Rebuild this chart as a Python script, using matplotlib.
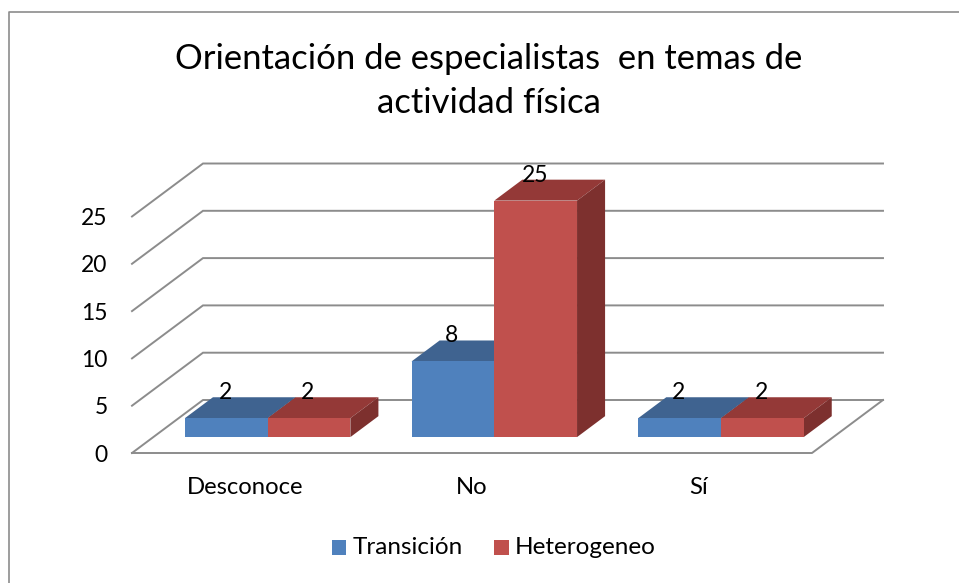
import matplotlib
matplotlib.use('Agg')
import matplotlib.pyplot as plt
from matplotlib.patches import Polygon, Rectangle

plt.rcParams['font.family'] = ['Lato', 'DejaVu Sans']

# Data
categories = ['Desconoce', 'No', 'Sí']
transicion = [2, 8, 2]
heterogeneo = [2, 25, 2]
y_ticks = [0, 5, 10, 15, 20, 25]
title = 'Orientación de especialistas  en temas de\nactividad física'

W, H = 959, 583
fig = plt.figure(figsize=(W / 100, H / 100), dpi=100)

# front plane of the 3D box
left, right, bottom, top = 132, 812, 453, 216.5
ax = fig.add_axes([left / W, 1 - bottom / H, (right - left) / W, (bottom - top) / H])
ax.set_xlim(0, 3)
ax.set_ylim(0, 25)
ax.patch.set_visible(False)
for s in ax.spines.values():
    s.set_visible(False)

# depth of the box, in data units
px_x = 3 / (right - left)
px_y = 25 / (bottom - top)
depth_x = 71 * px_x
depth_y = 53 * px_y


def proj(x, y, d=0.0):
    return (x + d * depth_x, y + d * depth_y)


GRID = '#8c8c8c'
for v in y_ticks:
    ax.plot(*zip(proj(0, v), proj(0, v, 1), proj(3, v, 1)), color=GRID, lw=1.4,
            clip_on=False, solid_joinstyle='miter', zorder=1)
ax.plot(*zip(proj(0, 0), proj(3, 0), proj(3, 0, 1)), color=GRID, lw=1.4,
        clip_on=False, zorder=1)

ax.set_yticks(y_ticks)
ax.set_xticks([0.5, 1.5, 2.5])
ax.set_xticklabels(categories)
ax.tick_params(axis='y', length=0, pad=17.5, labelsize=16.5)
ax.tick_params(axis='x', length=0, pad=17.5, labelsize=17.2)

BAR_W = 0.365
D0, D1 = 0.30, 0.695
NUDGE = 1 * px_x


def draw_bar(x0, val, front, top_c, side):
    x1 = x0 + BAR_W
    ax.add_patch(Polygon([proj(x0, val, D0), proj(x0, val, D1), proj(x1, val, D1), proj(x1, val, D0)],
                         fc=top_c, ec='none', clip_on=False, zorder=3))
    ax.add_patch(Polygon([proj(x1, 0, D0), proj(x1, 0, D1), proj(x1, val, D1), proj(x1, val, D0)],
                         fc=side, ec='none', clip_on=False, zorder=3))
    ax.add_patch(Polygon([proj(x0, 0, D0), proj(x1, 0, D0), proj(x1, val, D0), proj(x0, val, D0)],
                         fc=front, ec='none', clip_on=False, zorder=4))
    # value label sits above the front-face centre, at the back edge of the top
    lx = proj(x0 + BAR_W / 2, val, D0)[0] - 1 * px_x
    ly = proj(x0, val, D1)[1] - 6 * px_y
    ax.text(lx, ly, str(val), ha='center', va='bottom', fontsize=16.5, color='black',
            clip_on=False, zorder=5)


BLUE = ('#4f81bd', '#3f6390', '#2f4d70')
RED = ('#c0504d', '#943937', '#7d302e')
for i in range(3):
    draw_bar(i + 0.5 - BAR_W + NUDGE, transicion[i], *BLUE)
    draw_bar(i + 0.5 + NUDGE, heterogeneo[i], *RED)

# chart frame (only top and left show in the picture)
fig.add_artist(plt.Line2D([8.5 / W, 8.5 / W, 1], [0, 1 - 12 / H, 1 - 12 / H], color='#8c8c8c', lw=1.2))

fig.text(488.5 / W, 1 - 81 / H, title, ha='center', va='center', fontsize=24.9, linespacing=1.47)

# legend
fig.add_artist(Rectangle((332 / W, 1 - 555 / H), 14 / W, 15 / H, transform=fig.transFigure, fc=BLUE[0], ec='none'))
fig.add_artist(Rectangle((494 / W, 1 - 555 / H), 15 / W, 15 / H, transform=fig.transFigure, fc=RED[0], ec='none'))
fig.text(353 / W, 1 - 547 / H, 'Transición', ha='left', va='center', fontsize=17.5)
fig.text(515 / W, 1 - 547 / H, 'Heterogeneo', ha='left', va='center', fontsize=17.5)

fig.savefig('out.png', dpi=100)
